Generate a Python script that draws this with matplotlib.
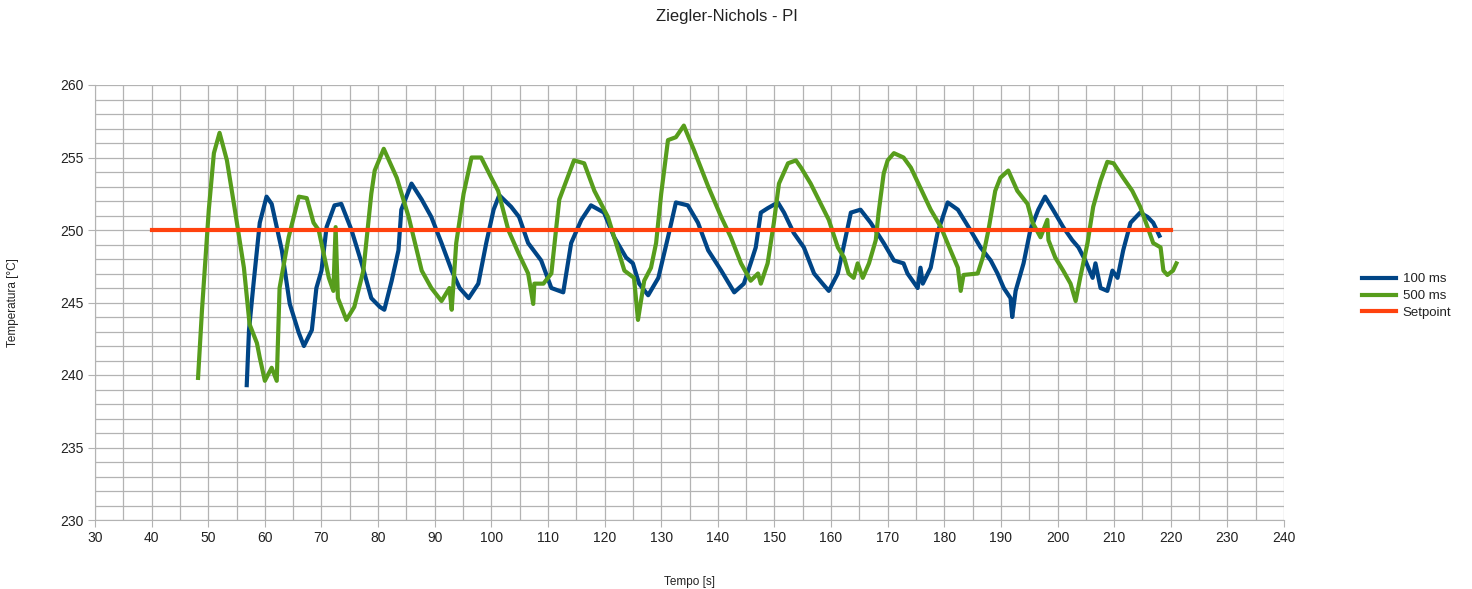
import matplotlib
matplotlib.use("Agg")
import matplotlib.pyplot as plt
from matplotlib.ticker import MultipleLocator

plt.rcParams['font.family'] = ['Liberation Sans', 'DejaVu Sans']

# 100 ms series
t_100 = [56.8, 57.2, 58.0, 59.1, 60.3, 61.2, 63.0, 64.4, 66.0, 66.9, 68.3, 69.1, 70.0, 70.9,
         72.3, 73.5, 75.3, 77.1, 78.8, 80.3, 81.1, 82.4, 83.6, 84.1, 85.9, 87.7, 89.4, 91.2,
         93.0, 94.4, 96.0, 97.7, 99.1, 100.4, 101.4, 103.5, 104.9, 106.5, 108.8, 110.6, 112.7,
         114.1, 115.9, 117.6, 119.9, 121.7, 123.8, 125.0, 126.1, 127.7, 129.5, 131.2, 132.6,
         134.7, 136.5, 138.3, 140.6, 142.9, 144.6, 145.8, 146.7, 147.6, 148.8, 150.6, 151.7,
         153.4, 155.2, 157.0, 158.5, 159.6, 161.2, 162.3, 163.5, 165.2, 167.0, 169.3, 171.1,
         172.8, 173.5, 175.3, 175.8, 176.2, 177.6, 178.8, 180.6, 182.4, 184.6, 186.4, 188.2,
         189.4, 190.5, 191.7, 192.0, 192.6, 194.0, 195.2, 196.6, 197.8, 199.2, 201.0, 202.6,
         203.7, 204.9, 206.2, 206.7, 207.6, 208.8, 209.7, 210.6, 211.6, 212.9, 214.6, 215.9,
         216.9, 218.0]
v_100 = [239.3, 243.1, 246.3, 250.5, 252.3, 251.8, 248.6, 244.9, 242.9, 242.0, 243.1, 246.0,
         247.2, 250.2, 251.7, 251.8, 250.0, 247.7, 245.3, 244.7, 244.5, 246.5, 248.6, 251.4,
         253.2, 252.1, 250.9, 249.1, 247.2, 246.0, 245.3, 246.3, 249.1, 251.4, 252.4, 251.6,
         250.9, 249.1, 247.9, 246.0, 245.7, 249.1, 250.7, 251.7, 251.2, 249.5, 248.1, 247.7,
         246.3, 245.5, 246.7, 249.5, 251.9, 251.7, 250.5, 248.6, 247.2, 245.7, 246.3, 247.7,
         248.8, 251.2, 251.5, 251.9, 251.2, 249.8, 248.8, 247.0, 246.3, 245.8, 247.0, 249.0,
         251.2, 251.4, 250.5, 249.1, 247.9, 247.7, 247.0, 246.0, 247.4, 246.3, 247.4, 249.8,
         251.9, 251.4, 250.0, 248.8, 247.9, 247.0, 246.0, 245.3, 244.0, 245.8, 247.7, 250.0,
         251.4, 252.3, 251.4, 250.2, 249.3, 248.8, 247.9, 246.7, 247.7, 246.0, 245.8, 247.2,
         246.7, 248.6, 250.5, 251.2, 250.9, 250.5, 249.6]

# 500 ms series
t_500 = [48.2, 48.9, 50.1, 51.0, 52.0, 53.3, 54.7, 56.3, 57.3, 58.6, 59.1, 60.0, 61.2, 62.1,
         62.6, 64.2, 66.0, 67.4, 68.6, 69.5, 71.3, 72.1, 72.5, 72.9, 74.4, 75.8, 77.4, 78.8,
         79.4, 81.0, 83.3, 85.4, 87.7, 89.4, 91.2, 92.6, 93.0, 93.8, 95.1, 96.5, 98.2, 100.0,
         101.2, 103.0, 104.8, 106.5, 107.4, 107.6, 109.2, 110.6, 112.0, 114.6, 116.4, 118.2,
         120.6, 123.5, 125.2, 125.9, 127.0, 128.2, 129.1, 130.0, 131.2, 132.6, 134.0, 135.8,
         138.3, 140.6, 142.3, 144.1, 145.8, 147.1, 147.6, 148.8, 149.9, 150.8, 152.4, 153.8,
         154.7, 156.4, 158.2, 159.6, 161.2, 162.3, 163.1, 164.0, 164.7, 165.6, 166.7, 167.9,
         168.4, 169.3, 170.0, 171.1, 172.8, 174.1, 175.8, 177.6, 179.4, 181.1, 182.4, 182.9,
         183.4, 185.9, 186.8, 187.8, 189.0, 189.9, 191.3, 192.9, 194.7, 195.6, 197.0, 198.2,
         198.4, 199.6, 201.0, 202.3, 203.2, 204.0, 205.3, 206.3, 207.6, 208.8, 209.9, 211.6,
         213.2, 214.6, 215.9, 216.9, 218.2, 218.7, 219.4, 220.4, 221.0]
v_500 = [239.8, 244.5, 251.4, 255.3, 256.7, 254.8, 251.4, 247.4, 243.5, 242.2, 241.2, 239.6,
         240.5, 239.6, 246.0, 249.5, 252.3, 252.2, 250.5, 250.0, 246.7, 245.8, 250.2, 245.3,
         243.8, 244.7, 247.2, 252.5, 254.1, 255.6, 253.6, 250.9, 247.2, 246.0, 245.1, 246.0,
         244.5, 249.1, 252.5, 255.0, 255.0, 253.6, 252.7, 250.0, 248.4, 247.0, 244.9, 246.3,
         246.3, 247.0, 252.1, 254.8, 254.6, 252.7, 250.9, 247.2, 246.7, 243.8, 246.5, 247.4,
         249.1, 252.5, 256.2, 256.4, 257.2, 255.5, 253.0, 250.9, 249.5, 247.7, 246.5, 247.0,
         246.3, 247.7, 250.5, 253.2, 254.6, 254.8, 254.3, 253.2, 251.8, 250.7, 248.8, 248.1,
         247.0, 246.7, 247.7, 246.7, 247.7, 249.3, 251.2, 253.9, 254.8, 255.3, 255.0, 254.3,
         252.9, 251.4, 250.2, 248.6, 247.4, 245.8, 246.9, 247.0, 248.1, 250.0, 252.7, 253.6,
         254.1, 252.7, 251.8, 250.5, 249.5, 250.7, 249.3, 248.1, 247.2, 246.3, 245.1, 246.7,
         249.1, 251.6, 253.4, 254.7, 254.6, 253.6, 252.7, 251.6, 250.2, 249.1, 248.8, 247.2,
         246.9, 247.2, 247.7]

# Setpoint
t_set = [40, 220]
v_set = [250, 250]

fig = plt.figure(figsize=(14.72, 5.89), dpi=100)
ax = fig.add_axes([95 / 1472, 69 / 589, (1284 - 95) / 1472, (520 - 85) / 589])

ax.plot(t_100, v_100, color='#004586', lw=3.0, label='100 ms', zorder=3)
ax.plot(t_500, v_500, color='#579D1C', lw=3.0, label='500 ms', zorder=3)
ax.plot(t_set, v_set, color='#FF420E', lw=3.0, label='Setpoint', zorder=3)

ax.set_xlim(30, 240)
ax.set_ylim(230, 260)
ax.xaxis.set_major_locator(MultipleLocator(10))
ax.xaxis.set_minor_locator(MultipleLocator(5))
ax.yaxis.set_major_locator(MultipleLocator(5))
ax.yaxis.set_minor_locator(MultipleLocator(1))
ax.grid(which='both', color='#b3b3b3', lw=0.9)
ax.set_axisbelow(True)
for s in ['top', 'right']:
    ax.spines[s].set_visible(False)
for s in ['left', 'bottom']:
    ax.spines[s].set_color('#b3b3b3')
ax.tick_params(which='major', length=5, color='#b3b3b3', labelsize=10, labelcolor='#222222', pad=3)
ax.tick_params(which='minor', length=0)

ax.set_xlabel('Tempo [s]', fontsize=8.5, color='#222222', labelpad=22)
ax.set_ylabel('Temperatura [°C]', fontsize=8.5, color='#222222', labelpad=30)
fig.text(0.494, 0.985, 'Ziegler-Nichols - PI', ha='center', va='top', fontsize=12, color='#222222')

handles, labels = ax.get_legend_handles_labels()
fig.legend(handles, labels, loc='center left', bbox_to_anchor=(1350 / 1472, 1 - 296 / 589),
           frameon=False, fontsize=9.5, handlelength=2.6, handletextpad=0.5,
           labelspacing=0.35, labelcolor='#222222')

fig.savefig('out.png', dpi=100)
